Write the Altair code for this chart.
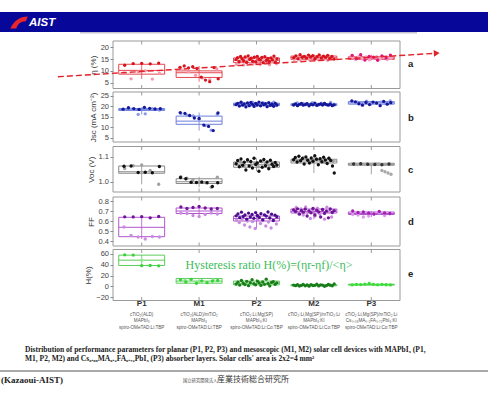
import altair as alt
import pandas as pd

categories = ["P1", "M1", "P2", "M2", "P3"]
cat_index = [1, 2, 3, 4, 5]
sub_labels = [
    "cTiO₂(ALD)\nMAPbI₃\nspiro-OMeTAD:Li:TBP",
    "cTiO₂(ALD)/mTiO₂\nMAPbI₃\nspiro-OMeTAD:Li:TBP",
    "cTiO₂:Li,Mg(SP)\nMAPbI₃:KI\nspiro-OMeTAD:Li:Co:TBP",
    "cTiO₂:Li,Mg(SP)/mTiO₂:Li\nMAPbI₃:KI\nspiro-OMeTAD:Li:Co:TBP",
    "cTiO₂:Li,Mg(SP)/mTiO₂:Li\nCs₀.₀₈MA₀.₂FA₀.₇₂PbI₃:KI\nspiro-OMeTAD:Li:Co:TBP",
]

# ---------------- panel a : efficiency (%) ----------------
eta_dark = {
    "P1": [12.4, 13.1, 13.2, 13.0, 13.3],
    "M1": [11.5, 12.1, 11.3, 11.8, 11.0, 7.3, 6.1, 5.4, 11.4, 6.6],
    "P2": [14.8, 15.6, 13.9, 16.1, 15.2, 14.3, 15.9, 13.6, 16.4, 14.9, 15.4, 14.1, 15.8, 13.8,
           16.2, 15.0, 14.6, 15.7, 13.5, 16.0, 14.4, 15.3, 14.0, 15.5, 14.7, 16.3, 13.7, 15.1],
    "M2": [15.6, 16.4, 15.1, 16.9, 15.8, 16.2, 15.4, 16.7, 15.9, 16.5, 15.2, 16.0, 16.8, 15.5,
           16.3, 15.7, 16.6, 15.3, 16.1, 15.0],
    "P3": [16.6, 15.2, 16.9, 14.6, 16.1, 15.8, 14.5, 16.4, 15.5, 16.7],
}
eta_light = {
    "P1": [9.1, 6.6, 9.6, 10.0, 6.5, 9.0],
    "M1": [10.4, 9.6, 8.1, 7.0, 6.3, 10.8],
    "P2": [12.8, 13.4, 14.2, 12.5, 13.9, 14.6, 13.1, 12.9, 14.0, 13.6, 12.7, 14.4, 13.3, 14.8,
           12.6, 13.8, 14.1, 13.0],
    "M2": [14.9, 15.3, 14.6, 15.8, 15.1, 14.8, 15.5, 15.0, 14.7, 15.6, 15.2, 14.5, 15.4, 15.9],
    "P3": [15.6, 14.9, 16.2, 15.0, 15.9, 14.7, 15.3, 16.0, 15.1, 15.7, 14.8, 15.4],
}
eta_q1 = [8.6, 7.2, 13.5, 14.9, 14.9]
eta_med = [10.2, 9.2, 14.5, 15.6, 15.4]
eta_q3 = [12.8, 10.0, 15.5, 16.3, 16.0]
eta_lo = [6.5, 5.4, 12.5, 14.5, 14.5]
eta_hi = [13.3, 12.1, 16.4, 16.9, 16.9]
trend_x = [-0.46, 6.14]
trend_eta = [7.5, 17.5]

# ---------------- panel b : Jsc ----------------
jsc_dark = {
    "P1": [18.6, 19.3, 18.9, 18.5, 19.5, 19.0, 18.7, 18.8],
    "M1": [17.0, 16.6, 15.6, 14.4, 14.2, 11.0, 10.4, 8.4, 16.8],
    "P2": [20.8, 21.4, 20.1, 21.9, 20.5, 21.1, 19.7, 21.6, 20.3, 21.8, 20.9, 19.9, 21.3, 20.6,
           22.0, 20.2, 21.5, 20.7, 21.2, 19.8, 21.7, 20.4, 21.0, 20.0, 21.4, 20.6],
    "M2": [20.6, 21.1, 20.3, 20.9, 21.4, 20.5, 20.8, 21.2, 20.2, 21.0, 20.7, 21.5, 20.4, 20.9,
           21.1, 20.6, 21.3, 20.8, 20.5, 21.0, 20.3, 20.7],
    "P3": [22.6, 22.1, 21.2, 20.5, 21.8, 20.8, 22.0, 21.5, 20.3, 22.3, 21.0, 21.7],
}
jsc_light = {
    "P1": [18.4, 18.6, 16.1, 16.4, 18.9, 18.2],
    "M1": [16.6, 15.8, 15.4, 13.8, 10.8, 8.6, 16.2],
    "P2": [21.2, 20.6, 21.7, 20.9, 21.4, 20.3, 21.9, 20.8, 21.1, 20.5, 21.6, 21.0, 20.7, 21.3,
           22.0, 20.4],
    "M2": [21.0, 21.6, 20.8, 21.4, 21.2, 20.9, 21.7, 21.1, 20.6, 21.5, 21.3, 20.7, 21.8, 21.0],
    "P3": [22.2, 21.9, 21.6, 22.4, 21.3, 21.8, 22.0, 21.4, 22.5],
}
jsc_q1 = [18.0, 11.4, 20.3, 20.4, 21.0]
jsc_med = [18.5, 12.9, 20.9, 20.8, 21.6]
jsc_q3 = [18.9, 15.3, 21.5, 21.2, 22.2]
jsc_lo = [16.1, 8.4, 19.6, 20.1, 20.3]
jsc_hi = [19.5, 17.0, 22.0, 21.7, 22.6]

# ---------------- panel c : Voc ----------------
voc_dark = {
    "P1": [1.062, 1.063, 1.037, 1.038, 1.036, 1.061],
    "M1": [1.017, 1.012, 0.998, 0.997, 0.999, 0.996, 0.981, 0.996],
    "P2": [1.072, 1.085, 1.060, 1.091, 1.066, 1.078, 1.047, 1.088, 1.063, 1.081, 1.055, 1.094,
           1.069, 1.075, 1.042, 1.083, 1.058, 1.089, 1.064, 1.079, 1.052, 1.086, 1.070, 1.061,
           1.077, 1.067],
    "M2": [1.088, 1.097, 1.079, 1.102, 1.084, 1.093, 1.071, 1.099, 1.086, 1.075, 1.095, 1.082,
           1.104, 1.090, 1.068, 1.092, 1.080, 1.098, 1.087, 1.073, 1.094, 1.085, 1.063, 1.035],
    "P3": [1.071, 1.072, 1.070, 1.069, 1.068, 1.071],
}
voc_light = {
    "P1": [1.053, 1.064, 1.067, 1.045, 0.990],
    "M1": [1.020, 1.014, 1.009, 0.999, 0.997, 0.978, 1.018],
    "P2": [1.070, 1.078, 1.064, 1.082, 1.068, 1.074, 1.060, 1.080, 1.072, 1.066, 1.076, 1.062],
    "M2": [1.090, 1.084, 1.096, 1.088, 1.080, 1.092, 1.086, 1.078, 1.094, 1.082],
    "P3": [1.070, 1.071, 1.069, 1.072, 1.070, 1.071, 1.069, 1.070, 1.072, 1.071, 1.045, 1.040,
           1.035, 1.030],
}
voc_q1 = [1.034, 0.993, 1.058, 1.075, 1.066]
voc_med = [1.040, 1.000, 1.068, 1.083, 1.070]
voc_q3 = [1.063, 1.012, 1.079, 1.090, 1.074]
voc_lo = [0.990, 0.978, 1.042, 1.035, 1.030]
voc_hi = [1.067, 1.020, 1.094, 1.104, 1.072]

# ---------------- panel d : FF ----------------
ff_dark = {
    "P1": [0.642, 0.641, 0.643, 0.632, 0.645],
    "M1": [0.740, 0.725, 0.735, 0.745, 0.730, 0.720, 0.725],
    "P2": [0.652, 0.671, 0.633, 0.688, 0.645, 0.660, 0.618, 0.679, 0.641, 0.666, 0.627, 0.684,
           0.655, 0.637, 0.673, 0.612, 0.662, 0.649, 0.690, 0.630, 0.668, 0.605, 0.658, 0.643],
    "M2": [0.712, 0.695, 0.722, 0.668, 0.705, 0.688, 0.718, 0.650, 0.700, 0.682, 0.725, 0.660,
           0.708, 0.692, 0.640, 0.715, 0.676, 0.698, 0.632, 0.720, 0.685, 0.703],
    "P3": [0.700, 0.685, 0.690, 0.680, 0.670, 0.695, 0.680, 0.675],
}
ff_light = {
    "P1": [0.540, 0.455, 0.440, 0.420, 0.445, 0.440],
    "M1": [0.680, 0.675, 0.655, 0.645, 0.665, 0.680, 0.670],
    "P2": [0.610, 0.585, 0.620, 0.560, 0.600, 0.540, 0.595, 0.525, 0.615, 0.575, 0.605, 0.550,
           0.590, 0.530, 0.612, 0.570],
    "M2": [0.700, 0.735, 0.680, 0.720, 0.660, 0.740, 0.690, 0.625, 0.710, 0.650, 0.728, 0.670,
           0.715, 0.618, 0.738, 0.695, 0.640, 0.705],
    "P3": [0.665, 0.660, 0.640, 0.650, 0.670, 0.680, 0.655, 0.672],
}
ff_q1 = [0.443, 0.675, 0.600, 0.680, 0.665]
ff_med = [0.537, 0.700, 0.625, 0.695, 0.675]
ff_q3 = [0.637, 0.730, 0.650, 0.720, 0.690]
ff_lo = [0.420, 0.645, 0.525, 0.618, 0.640]
ff_hi = [0.645, 0.745, 0.690, 0.740, 0.700]

# ---------------- panel e : hysteresis (%) ----------------
hys_dark = {
    "P1": [58.5, 58.0, 38.5, 38.8, 38.2],
    "M1": [12.5, 8.5, 13.2, 6.0, 10.5, 7.0, 10.0, 11.0],
    "P2": [4.5, 8.0, 2.5, 11.0, 6.0, 3.5, 9.5, 1.5, 7.0, 12.5, 5.0, 3.0, 10.0, 6.5, 2.0, 8.5,
           4.0, 13.5, 5.5, 1.0, 7.5, 9.0, 3.8, 6.8],
    "M2": [2.5, 1.5, 3.2, 0.8, 2.0, 3.8, 1.2, 2.8, 0.5, 3.5, 1.8, 2.2, 4.2, 1.0, 3.0, 2.6, 0.3,
           1.6, 3.6, 2.4, 1.4, 4.8],
    "P3": [3.0, 4.0, 3.5, 4.5, 5.5, 4.0, 3.0, 3.8, 3.2, 2.8],
}
hys_light = {"P1": [48.5], "M1": [11.5, 9.5, 12.0], "P2": [], "M2": [], "P3": []}
hys_q1 = [38.8, 6.1, 3.0, 1.2, 2.6]
hys_med = [48.6, 10.0, 6.0, 2.2, 3.3]
hys_q3 = [57.9, 14.8, 10.0, 3.4, 4.2]
hys_lo = [38.2, 6.0, 1.0, 0.3, 2.8]
hys_hi = [58.5, 13.2, 13.5, 4.8, 5.5]

# ---------------- styles / layout ----------------
panel_keys = ["a", "b", "c", "d", "e"]
panel_titles = ["η (%)", "Jsc (mA cm⁻²)", "Voc (V)", "FF", "H(%)"]
panel_ticks = [[5, 10, 15, 20], [5, 10, 15, 20, 25], [1.0, 1.1],
               [0.4, 0.5, 0.6, 0.7, 0.8], [-20, 0, 20, 40, 60]]
panel_fmt = ["d", "d", ".1f", ".1f", "d"]
panel_domains = [[2.5, 22.7], [2.95, 26.8], [0.959, 1.141], [0.35, 0.84], [-25.9, 68.3]]
panel_pixels = [[88.5, 41.0], [142.0, 92.0], [192.0, 146.5], [246.0, 197.0], [300.5, 249.5]]
letter_y = [64, 118, 170, 222, 274]
box_colors = ["#e4474f", "#6d7fdc", "#8a8a8a", "#b354cf", "#5ccc5c"]
dark_colors = {
    "a": ["#d7141d", "#d7141d", "#d7141d", "#d7141d", "#e0147a"],
    "b": ["#15189a", "#15189a", "#15189a", "#15189a", "#15189a"],
    "c": ["#111111", "#111111", "#111111", "#111111", "#333333"],
    "d": ["#6e1696", "#6e1696", "#4a0e8f", "#6e1696", "#a51fb5"],
    "e": ["#35d535", "#35d535", "#1a7d1a", "#1a7d1a", "#35e035"],
}
light_colors = {
    "a": ["#f29aae", "#f29aae", "#f29aae", "#f29aae", "#f5a0c8"],
    "b": ["#8a9ae6", "#8a9ae6", "#8a9ae6", "#8a9ae6", "#8a9ae6"],
    "c": ["#a0a0a0", "#a0a0a0", "#a0a0a0", "#a0a0a0", "#a8a8a8"],
    "d": ["#c98de0", "#c98de0", "#c98de0", "#c98de0", "#d99be8"],
    "e": ["#8fe88f", "#8fe88f", "#8fe88f", "#8fe88f", "#8fe88f"],
}

series = {
    "a": (eta_dark, eta_light, eta_q1, eta_med, eta_q3, eta_lo, eta_hi),
    "b": (jsc_dark, jsc_light, jsc_q1, jsc_med, jsc_q3, jsc_lo, jsc_hi),
    "c": (voc_dark, voc_light, voc_q1, voc_med, voc_q3, voc_lo, voc_hi),
    "d": (ff_dark, ff_light, ff_q1, ff_med, ff_q3, ff_lo, ff_hi),
    "e": (hys_dark, hys_light, hys_q1, hys_med, hys_q3, hys_lo, hys_hi),
}

AX_FONT = "Liberation Sans"
xsc = alt.Scale(domain=[0.5, 5.5], range=[0, 287], nice=False, zero=False)
X_NOAX = dict(scale=xsc, axis=None)


def make_panel(k):
    pi = panel_keys.index(k)
    dark, light, q1, med, q3, lo, hi = series[k]
    ysc = alt.Scale(domain=panel_domains[pi], range=panel_pixels[pi], nice=False, zero=False)
    yax = alt.Axis(orient="left", values=panel_ticks[pi], format=panel_fmt[pi],
                   title=panel_titles[pi], grid=False, domain=False, tickSize=3,
                   tickColor="#888888", labelFontSize=7.5, labelFont=AX_FONT,
                   labelColor="#444444", labelPadding=1.5, titleFont=AX_FONT,
                   titleFontSize=8, titleFontWeight="normal", titleColor="#333333",
                   titlePadding=3)

    rows = []
    for i, c in enumerate(categories):
        for s, src, cols in (("light", light, light_colors[k]), ("dark", dark, dark_colors[k])):
            for v in src.get(c, []):
                rows.append({"cat": c, "idx": cat_index[i], "series": s, "value": v,
                             "col": cols[i]})
    pts = pd.DataFrame(rows)
    box = pd.DataFrame({"cat": categories, "idx": cat_index, "q1": q1, "med": med,
                        "q3": q3, "lo": lo, "hi": hi})
    frame = pd.DataFrame({"x1": [0.5], "x2": [5.5], "ylo": [panel_domains[pi][0]],
                          "yhi": [panel_domains[pi][1]]})

    frame_l = alt.Chart(frame).mark_rect(fillOpacity=0, stroke="#9a9a9a", strokeWidth=1).encode(
        x=alt.X("x1:Q", **X_NOAX), x2="x2:Q",
        y=alt.Y("ylo:Q", scale=ysc, axis=yax), y2="yhi:Q")
    whisk = alt.Chart(box).mark_rule(color=box_colors[pi], strokeWidth=0.8).encode(
        x=alt.X("idx:Q", **X_NOAX), y=alt.Y("lo:Q", scale=ysc, axis=yax), y2="hi:Q")
    boxes = alt.Chart(box).transform_calculate(
        xl="datum.idx - 0.4", xr="datum.idx + 0.4").mark_rect(
        fillOpacity=0, stroke=box_colors[pi], strokeWidth=1).encode(
        x=alt.X("xl:Q", **X_NOAX), x2="xr:Q",
        y=alt.Y("q1:Q", scale=ysc, axis=yax), y2="q3:Q")
    meds = alt.Chart(box).transform_calculate(
        xl="datum.idx - 0.4", xr="datum.idx + 0.4").mark_rule(
        color=box_colors[pi], strokeWidth=1).encode(
        x=alt.X("xl:Q", **X_NOAX), x2="xr:Q", y=alt.Y("med:Q", scale=ysc, axis=yax))
    points = alt.Chart(pts).transform_window(
        rk="row_number()", groupby=["cat", "series"]).transform_joinaggregate(
        n="count()", groupby=["cat", "series"]).transform_calculate(
        xj="datum.idx - 0.37 + 0.74 * (datum.rk - 0.5) / datum.n").mark_circle(
        size=11, opacity=1).encode(
        x=alt.X("xj:Q", **X_NOAX), y=alt.Y("value:Q", scale=ysc, axis=yax),
        color=alt.Color("col:N", scale=None))
    top_px = panel_pixels[pi][1]
    bot_px = panel_pixels[pi][0]
    tick_top = alt.Chart(box).mark_rule(color="#9a9a9a", strokeWidth=1).encode(
        x=alt.X("idx:Q", **X_NOAX), y=alt.value(top_px), y2=alt.value(top_px + 3.5))
    tick_bot = alt.Chart(box).mark_rule(color="#9a9a9a", strokeWidth=1).encode(
        x=alt.X("idx:Q", **X_NOAX), y=alt.value(bot_px), y2=alt.value(bot_px - 3.5))
    layers = [frame_l, whisk, boxes, meds, points, tick_top, tick_bot]
    if k == "a":
        trend = pd.DataFrame({"tx": trend_x, "ty": trend_eta})
        line = alt.Chart(trend).mark_line(color="#e3222b", strokeWidth=1.4,
                                          strokeDash=[6, 3]).encode(
            x=alt.X("tx:Q", **X_NOAX), y=alt.Y("ty:Q", scale=ysc, axis=yax))
        head = alt.Chart(trend.tail(1)).mark_point(
            shape="triangle-right", filled=True, size=45, opacity=1, color="#e3222b",
            angle=356.4).encode(
            x=alt.X("tx:Q", **X_NOAX), y=alt.Y("ty:Q", scale=ysc, axis=yax))
        layers += [line, head]
    return alt.layer(*layers)


one = alt.Data(values=[{"k": 1}])


def text_layer(txt, x, y, **kw):
    return alt.Chart(pd.DataFrame({"t": [txt]})).mark_text(**kw).encode(
        text="t:N", x=alt.value(x), y=alt.value(y))


# header
header = alt.Chart(one).mark_rect(color="#07079a").encode(
    x=alt.value(-113), x2=alt.value(375), y=alt.value(12), y2=alt.value(32))
header_line = alt.Chart(one).mark_rule(color="#c4c4d0", strokeWidth=1.5).encode(
    x=alt.value(80 - 113), x2=alt.value(417 - 113), y=alt.value(32.8))
logo = alt.Chart(one).mark_point(
    shape="M-1,0.7 C-0.6,-0.2 0.1,-0.7 1,-0.7 L0.8,-0.15 C0.2,-0.15 -0.2,0.2 -0.3,0.7 Z",
    filled=True, color="#e8262c", size=300, opacity=1).encode(
    x=alt.value(19 - 113), y=alt.value(22.5))
logo_txt = text_layer("AIST", 29 - 113, 22.5, font="Liberation Sans", fontSize=11.5,
                      fontWeight="bold", fontStyle="italic", color="white", align="left",
                      baseline="middle")

# category labels
cat_df = pd.DataFrame({"cat": categories, "idx": cat_index, "sub": sub_labels})
cat_l = alt.Chart(cat_df).mark_text(font=AX_FONT, fontSize=8, fontWeight="bold",
                                    color="#333333", baseline="middle").encode(
    x=alt.X("idx:Q", **X_NOAX), y=alt.value(303.5), text="cat:N")
sub_l = alt.Chart(cat_df).mark_text(font=AX_FONT, fontSize=4.6, color="#555555",
                                    baseline="top", lineBreak="\n", lineHeight=6.7).encode(
    x=alt.X("idx:Q", **X_NOAX), y=alt.value(311.5), text="sub:N")

letters = [text_layer(l, 295, yy, font=AX_FONT, fontSize=9.5, fontWeight="bold",
                      color="#222222", align="left", baseline="middle")
           for l, yy in zip(panel_keys, letter_y)]

hyst = text_layer("Hysteresis ratio H(%)=(ηr-ηf)/<η>", 156, 264.5,
                  font="Liberation Serif", fontSize=12, color="#3dbb5a",
                  align="center", baseline="middle")

cap1 = text_layer("Distribution of performance parameters for planar (P1, P2, P3) and mesoscopic "
                  "(M1, M2) solar cell devices with MAPbI₃ (P1,", -88, 349.5,
                  font="Liberation Serif", fontSize=7.5, fontWeight="bold", color="#222222",
                  align="left", baseline="middle")
cap2 = text_layer("M1, P2, M2) and Cs₀.₀₈MA₀.₂FA₀.₇₂PbI₃ (P3) absorber layers. Solar cells' "
                  "area is 2x2=4 mm²", -88, 358.5,
                  font="Liberation Serif", fontSize=7.5, fontWeight="bold", color="#222222",
                  align="left", baseline="middle")
foot_line = alt.Chart(one).mark_rule(color="#555555", strokeWidth=1).encode(
    x=alt.value(-113), x2=alt.value(375), y=alt.value(371))
foot1 = text_layer("(Kazaoui-AIST)", -112, 379.5, font="Liberation Serif", fontSize=9,
                   fontWeight="bold", color="#222222", align="left", baseline="middle")
foot2 = text_layer("国立研究開発法人", 183 - 113, 380.5, font="Noto Sans CJK JP",
                   fontSize=4.3, color="#444444", align="left", baseline="middle")
foot3 = text_layer("産業技術総合研究所", 217 - 113, 379.5, font="Noto Sans CJK JP",
                   fontSize=8, color="#333333", align="left", baseline="middle")

panels = [make_panel(k) for k in panel_keys]

chart = alt.layer(
    header, header_line, logo, logo_txt, *panels, cat_l, sub_l, *letters, hyst,
    cap1, cap2, foot_line, foot1, foot2, foot3
).resolve_scale(y="independent").resolve_axis(y="independent").properties(
    width=375, height=394,
    padding={"left": 113, "top": 0, "right": 0, "bottom": 0},
    autosize=alt.AutoSizeParams(type="none"),
    background="white",
).configure_view(stroke=None)

chart.save("out.html", embed_options={"renderer": "svg", "actions": False})
